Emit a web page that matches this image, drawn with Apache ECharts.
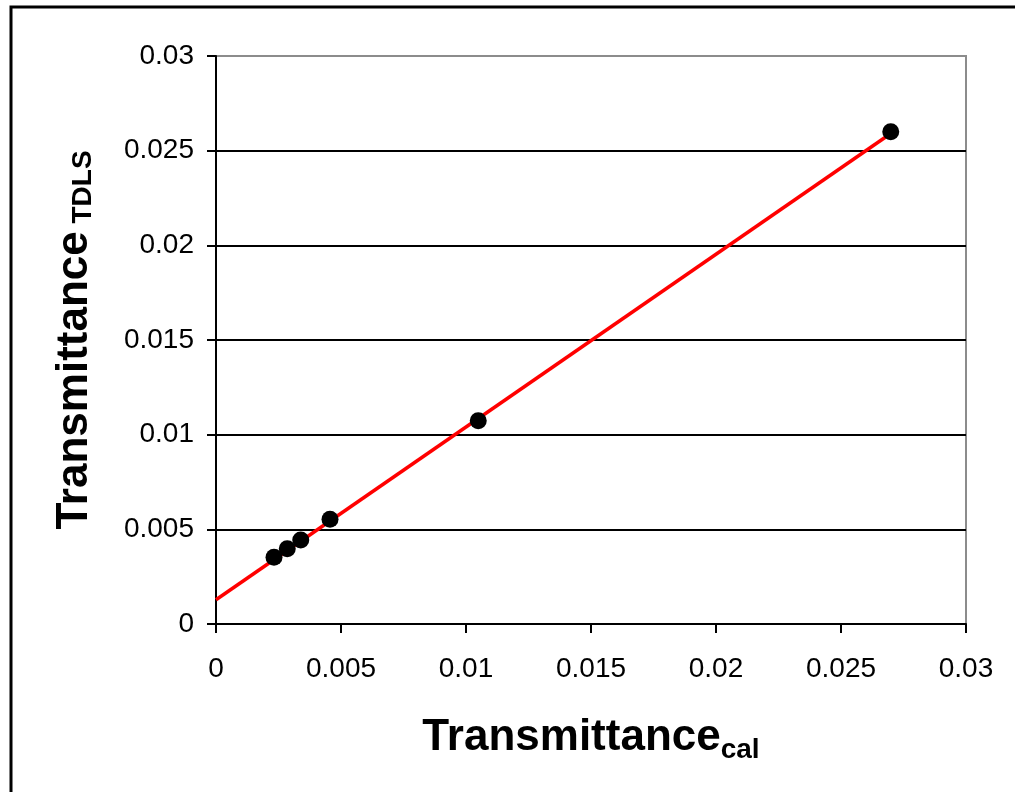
<!DOCTYPE html>
<html>
<head>
<meta charset="utf-8">
<script src="https://cdn.jsdelivr.net/npm/echarts@6/dist/echarts.min.js"></script>
<style>
  html, body { margin: 0; padding: 0; background: #fff; }
  #chart { width: 1015px; height: 792px; }
</style>
</head>
<body>
<div id="chart"></div>
<script>
// Measured transmittance: calculated vs. TDLS
const calValues = [0.00232, 0.00285, 0.00339, 0.00456, 0.01049, 0.02699];
const tdlsValues = [0.00352, 0.00398, 0.00444, 0.00553, 0.01074, 0.02600];

// Linear trend line end points (x = 0 to the largest calculated value)
const trendX = [0, 0.02699];
const trendY = [0.00128, 0.02591];

// Axis ticks shared by both axes
const axisMin = 0;
const axisMax = 0.03;
const axisStep = 0.005;

const points = calValues.map((x, i) => [x, tdlsValues[i]]);
const trend = trendX.map((x, i) => [x, trendY[i]]);

const font = '"Liberation Sans", Arial, sans-serif';
const tickLabel = { color: '#000', fontSize: 28, fontFamily: font };

const chart = echarts.init(document.getElementById('chart'), null, { renderer: 'canvas' });

chart.setOption({
  animation: false,
  backgroundColor: '#fff',
  grid: {
    left: 216, right: 49, top: 56, bottom: 168,
    show: true, borderColor: '#8c8c8c', borderWidth: 2, backgroundColor: 'transparent'
  },
  graphic: [{
    type: 'rect',
    shape: { x: 11, y: 7, width: 1020, height: 800 },
    style: { fill: 'none', stroke: '#000', lineWidth: 3 },
    silent: true, z: 100
  }],
  xAxis: {
    type: 'value', min: axisMin, max: axisMax, interval: axisStep,
    axisLine: { show: true, onZero: false, lineStyle: { color: '#000', width: 2 } },
    axisTick: { show: true, length: 9, lineStyle: { color: '#000', width: 2 } },
    axisLabel: Object.assign({ margin: 31, formatter: v => String(+v.toFixed(3)) }, tickLabel),
    splitLine: { show: false },
    name: '{a|Transmittance}{b|cal}',
    nameLocation: 'middle',
    nameGap: 92,
    nameTextStyle: {
      rich: {
        a: { fontSize: 44, fontWeight: 'bold', fontFamily: font, color: '#000', lineHeight: 44, verticalAlign: 'top' },
        b: { fontSize: 28, fontWeight: 'bold', fontFamily: font, color: '#000', lineHeight: 28, verticalAlign: 'top', padding: [20, 0, 0, 0] }
      }
    }
  },
  yAxis: {
    type: 'value', min: axisMin, max: axisMax, interval: axisStep,
    axisLine: { show: true, onZero: false, lineStyle: { color: '#000', width: 2 } },
    axisTick: { show: true, length: 9, lineStyle: { color: '#000', width: 2 } },
    axisLabel: Object.assign({ margin: 22, formatter: v => String(+v.toFixed(3)) }, tickLabel),
    splitLine: {
      show: true,
      lineStyle: { color: ['#000', '#000', '#000', '#000', '#000', '#000', '#8c8c8c'], width: 2 }
    },
    name: '{a|Transmittance}{b| TDLS}',
    nameLocation: 'middle',
    nameRotate: 90,
    nameGap: 119,
    nameTextStyle: {
      rich: {
        a: { fontSize: 44, fontWeight: 'bold', fontFamily: font, color: '#000', lineHeight: 44, verticalAlign: 'bottom' },
        b: { fontSize: 28, fontWeight: 'bold', fontFamily: font, color: '#000', lineHeight: 34, verticalAlign: 'bottom' }
      }
    }
  },
  series: [
    {
      type: 'line',
      data: trend,
      showSymbol: false,
      lineStyle: { color: '#ff0000', width: 3.5 },
      z: 2,
      silent: true
    },
    {
      type: 'scatter',
      data: points,
      symbol: 'circle',
      symbolSize: 17,
      itemStyle: { color: '#000', opacity: 1 },
      z: 3
    }
  ]
});
</script>
</body>
</html>
